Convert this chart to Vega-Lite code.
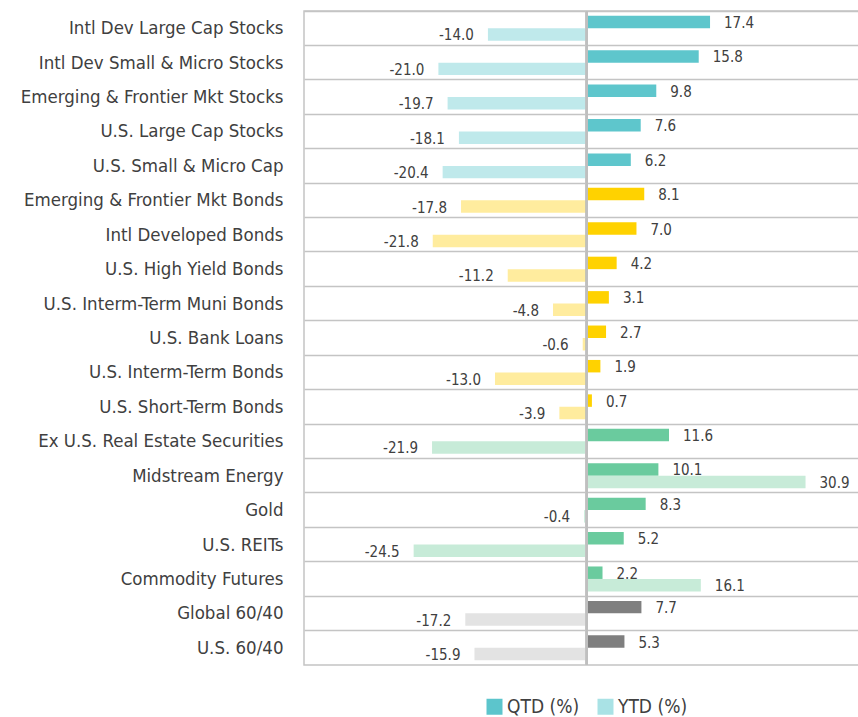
{
  "$schema": "https://vega.github.io/schema/vega-lite/v6.json",
  "autosize": {"type": "none"},
  "padding": {"left": 304, "top": 11, "right": 0, "bottom": 52},
  "width": 556,
  "height": 654,
  "background": "white",
  "config": {
    "locale": {"number": {"decimal": ".", "thousands": ",", "grouping": [3], "currency": ["$", ""], "minus": "-"}},
    "view": {"stroke": "#C4C4C4", "strokeWidth": 1.5},
    "font": "DejaVu Sans Condensed, Roboto, sans-serif"
  },
  "data": {
    "values": [
      {"asset": "Intl Dev Large Cap Stocks", "group": "Stocks", "series": "QTD (%)", "value": 17.4},
      {"asset": "Intl Dev Large Cap Stocks", "group": "Stocks", "series": "YTD (%)", "value": -14.0},
      {"asset": "Intl Dev Small & Micro Stocks", "group": "Stocks", "series": "QTD (%)", "value": 15.8},
      {"asset": "Intl Dev Small & Micro Stocks", "group": "Stocks", "series": "YTD (%)", "value": -21.0},
      {"asset": "Emerging & Frontier Mkt Stocks", "group": "Stocks", "series": "QTD (%)", "value": 9.8},
      {"asset": "Emerging & Frontier Mkt Stocks", "group": "Stocks", "series": "YTD (%)", "value": -19.7},
      {"asset": "U.S. Large Cap Stocks", "group": "Stocks", "series": "QTD (%)", "value": 7.6},
      {"asset": "U.S. Large Cap Stocks", "group": "Stocks", "series": "YTD (%)", "value": -18.1},
      {"asset": "U.S. Small & Micro Cap", "group": "Stocks", "series": "QTD (%)", "value": 6.2},
      {"asset": "U.S. Small & Micro Cap", "group": "Stocks", "series": "YTD (%)", "value": -20.4},
      {"asset": "Emerging & Frontier Mkt Bonds", "group": "Bonds", "series": "QTD (%)", "value": 8.1},
      {"asset": "Emerging & Frontier Mkt Bonds", "group": "Bonds", "series": "YTD (%)", "value": -17.8},
      {"asset": "Intl Developed Bonds", "group": "Bonds", "series": "QTD (%)", "value": 7.0},
      {"asset": "Intl Developed Bonds", "group": "Bonds", "series": "YTD (%)", "value": -21.8},
      {"asset": "U.S. High Yield Bonds", "group": "Bonds", "series": "QTD (%)", "value": 4.2},
      {"asset": "U.S. High Yield Bonds", "group": "Bonds", "series": "YTD (%)", "value": -11.2},
      {"asset": "U.S. Interm-Term Muni Bonds", "group": "Bonds", "series": "QTD (%)", "value": 3.1},
      {"asset": "U.S. Interm-Term Muni Bonds", "group": "Bonds", "series": "YTD (%)", "value": -4.8},
      {"asset": "U.S. Bank Loans", "group": "Bonds", "series": "QTD (%)", "value": 2.7},
      {"asset": "U.S. Bank Loans", "group": "Bonds", "series": "YTD (%)", "value": -0.6},
      {"asset": "U.S. Interm-Term Bonds", "group": "Bonds", "series": "QTD (%)", "value": 1.9},
      {"asset": "U.S. Interm-Term Bonds", "group": "Bonds", "series": "YTD (%)", "value": -13.0},
      {"asset": "U.S. Short-Term Bonds", "group": "Bonds", "series": "QTD (%)", "value": 0.7},
      {"asset": "U.S. Short-Term Bonds", "group": "Bonds", "series": "YTD (%)", "value": -3.9},
      {"asset": "Ex U.S. Real Estate Securities", "group": "Real", "series": "QTD (%)", "value": 11.6},
      {"asset": "Ex U.S. Real Estate Securities", "group": "Real", "series": "YTD (%)", "value": -21.9},
      {"asset": "Midstream Energy", "group": "Real", "series": "QTD (%)", "value": 10.1},
      {"asset": "Midstream Energy", "group": "Real", "series": "YTD (%)", "value": 30.9},
      {"asset": "Gold", "group": "Real", "series": "QTD (%)", "value": 8.3},
      {"asset": "Gold", "group": "Real", "series": "YTD (%)", "value": -0.4},
      {"asset": "U.S. REITs", "group": "Real", "series": "QTD (%)", "value": 5.2},
      {"asset": "U.S. REITs", "group": "Real", "series": "YTD (%)", "value": -24.5},
      {"asset": "Commodity Futures", "group": "Real", "series": "QTD (%)", "value": 2.2},
      {"asset": "Commodity Futures", "group": "Real", "series": "YTD (%)", "value": 16.1},
      {"asset": "Global 60/40", "group": "Balanced", "series": "QTD (%)", "value": 7.7},
      {"asset": "Global 60/40", "group": "Balanced", "series": "YTD (%)", "value": -17.2},
      {"asset": "U.S. 60/40", "group": "Balanced", "series": "QTD (%)", "value": 5.3},
      {"asset": "U.S. 60/40", "group": "Balanced", "series": "YTD (%)", "value": -15.9}
    ]
  },
  "transform": [{"calculate": "datum.group + ' ' + datum.series", "as": "key"}],
  "encoding": {
    "y": {
      "field": "asset", "type": "nominal", "sort": null, "title": null,
      "scale": {"paddingInner": 0, "paddingOuter": 0},
      "axis": {
        "domain": false, "ticks": false, "labelPadding": 21, "labelFontSize": 18.5,
        "labelColor": "#404040",
        "grid": true, "bandPosition": 0, "gridColor": "#C4C4C4", "gridWidth": 1.5,
        "labelLimit": 300
      }
    }
  },
  "layer": [
    {
      "mark": {"type": "bar", "orient": "horizontal"},
      "encoding": {
        "x": {"field": "value", "type": "quantitative", "axis": null,
              "scale": {"domain": [-40, 38.6], "nice": false, "zero": false}},
        "yOffset": {"field": "series", "type": "nominal", "sort": ["QTD (%)", "YTD (%)"],
                    "scale": {"paddingInner": 0, "paddingOuter": 0.38}},
        "color": {
          "field": "key", "type": "nominal", "legend": null,
          "scale": {
            "domain": ["Stocks QTD (%)", "Stocks YTD (%)", "Bonds QTD (%)", "Bonds YTD (%)", "Real QTD (%)", "Real YTD (%)", "Balanced QTD (%)", "Balanced YTD (%)"],
            "range": ["#5EC6CC", "#BFE9EB", "#FFD200", "#FFEC9E", "#6ACB9E", "#C7EBD8", "#7F7F7F", "#E3E3E3"]
          }
        }
      }
    },
    {
      "mark": {"type": "rule", "color": "#BFBFBF", "strokeWidth": 2},
      "encoding": {"x": {"datum": 0, "type": "quantitative"}, "y": {"value": 0}, "y2": {"value": 654}}
    },
    {
      "transform": [{"filter": "datum.value >= 0"}],
      "mark": {"type": "text", "align": "left", "baseline": "middle", "dx": 14, "dy": 1, "fontSize": 15, "color": "#404040"},
      "encoding": {
        "x": {"field": "value", "type": "quantitative"},
        "yOffset": {"field": "series", "type": "nominal", "sort": ["QTD (%)", "YTD (%)"]},
        "text": {"field": "value", "type": "quantitative", "format": ".1f"}
      }
    },
    {
      "transform": [{"filter": "datum.value < 0"}],
      "mark": {"type": "text", "align": "right", "baseline": "middle", "dx": -14, "dy": 1, "fontSize": 15, "color": "#404040"},
      "encoding": {
        "x": {"field": "value", "type": "quantitative"},
        "yOffset": {"field": "series", "type": "nominal", "sort": ["QTD (%)", "YTD (%)"]},
        "text": {"field": "value", "type": "quantitative", "format": ".1f"}
      }
    },
    {
      "mark": {"type": "point", "opacity": 0, "filled": true},
      "encoding": {
        "x": {"datum": 0, "type": "quantitative"},
        "color": {
          "field": "series", "type": "nominal",
          "scale": {"domain": ["QTD (%)", "YTD (%)"], "range": ["#5CC5CC", "#A9E2E5"]},
          "legend": {
            "title": null, "orient": "none", "direction": "horizontal",
            "legendX": 181, "legendY": 686,
            "symbolType": "square", "symbolSize": 256, "symbolOpacity": 1, "symbolStrokeWidth": 0,
            "labelFontSize": 19, "labelColor": "#404040",
            "columnPadding": 16, "labelOffset": 3
          }
        }
      }
    }
  ],
  "resolve": {"scale": {"color": "independent"}}
}
